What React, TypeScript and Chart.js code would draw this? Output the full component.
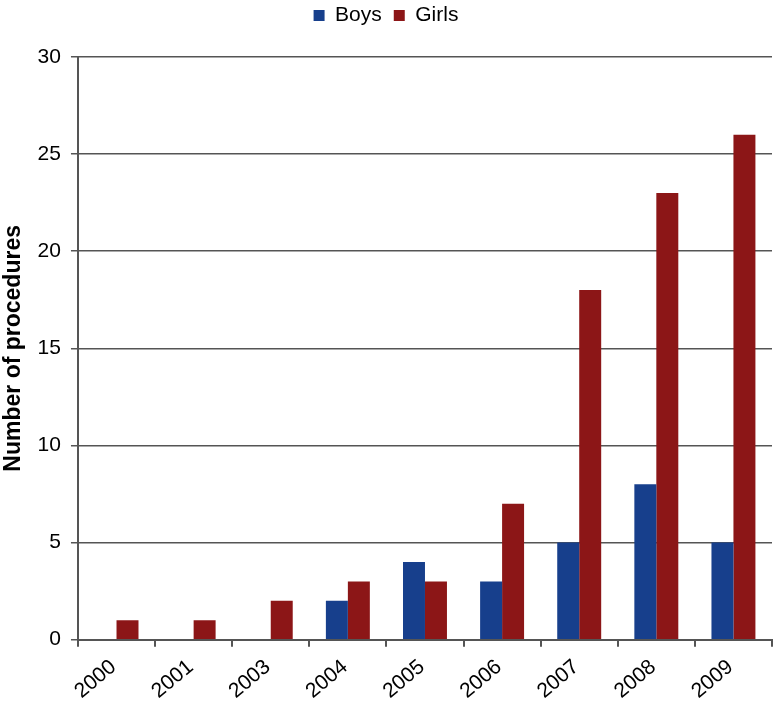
import React, { useEffect, useRef } from "react";
import { Chart, registerables } from "chart.js";

Chart.register(...registerables);

const categories = ["2000", "2001", "2003", "2004", "2005", "2006", "2007", "2008", "2009"];
const boys = [0, 0, 0, 2, 4, 3, 5, 8, 5];
const girls = [1, 1, 2, 3, 3, 7, 18, 23, 26];
const yTicks = [0, 5, 10, 15, 20, 25, 30];

const FONT = "'Liberation Sans', Arial, sans-serif";

const legendMargin = {
  id: "legendMargin",
  beforeInit(chart: any) {
    const orig = chart.legend.fit;
    chart.legend.fit = function () {
      orig.bind(chart.legend)();
      this.height += 21;
    };
  },
};

export default function App() {
  const ref = useRef<HTMLCanvasElement | null>(null);
  useEffect(() => {
    if (!ref.current) return;
    const chart = new Chart(ref.current, {
      type: "bar",
      data: {
        labels: categories,
        datasets: [
          {
            label: "Boys",
            data: boys,
            backgroundColor: "#173f8c",
            categoryPercentage: 0.57,
            barPercentage: 1,
          },
          {
            label: "Girls",
            data: girls,
            backgroundColor: "#8c1617",
            categoryPercentage: 0.57,
            barPercentage: 1,
          },
        ],
      },
      plugins: [legendMargin],
      options: {
        animation: false,
        responsive: true,
        maintainAspectRatio: false,
        layout: { padding: { top: -7, right: 6, left: 0, bottom: 0 } },
        plugins: {
          tooltip: { enabled: false },
          legend: {
            position: "top",
            labels: {
              font: { family: FONT, size: 21 },
              color: "#000",
              boxWidth: 11,
              boxHeight: 11,
              padding: 12,
            },
          },
        },
        scales: {
          x: {
            grid: {
              offset: true,
              drawOnChartArea: false,
              color: "#555",
              lineWidth: 2,
              tickLength: 7,
            },
            border: { color: "#555", width: 2 },
            ticks: {
              font: { family: FONT, size: 21 },
              color: "#000",
              minRotation: 40,
              maxRotation: 40,
              padding: 8,
              labelOffset: -3,
            },
          },
          y: {
            min: 0,
            max: 30,
            afterBuildTicks: (axis: any) => {
              axis.ticks = yTicks.map((v) => ({ value: v }));
            },
            grid: {
              color: "#555",
              lineWidth: 1.5,
              tickLength: 7,
            },
            border: { color: "#555", width: 2 },
            ticks: {
              font: { family: FONT, size: 21 },
              color: "#000",
              padding: 10,
            },
            title: {
              display: true,
              text: "Number of procedures",
              font: { family: FONT, size: 23, weight: "bold" },
              color: "#000",
              padding: { top: 0, bottom: 0 },
            },
          },
        },
      },
    });
    return () => chart.destroy();
  }, []);
  return (
    <div style={{ position: "absolute", left: 0, top: 0, width: 778, height: 712 }}>
      <canvas ref={ref} />
    </div>
  );
}
